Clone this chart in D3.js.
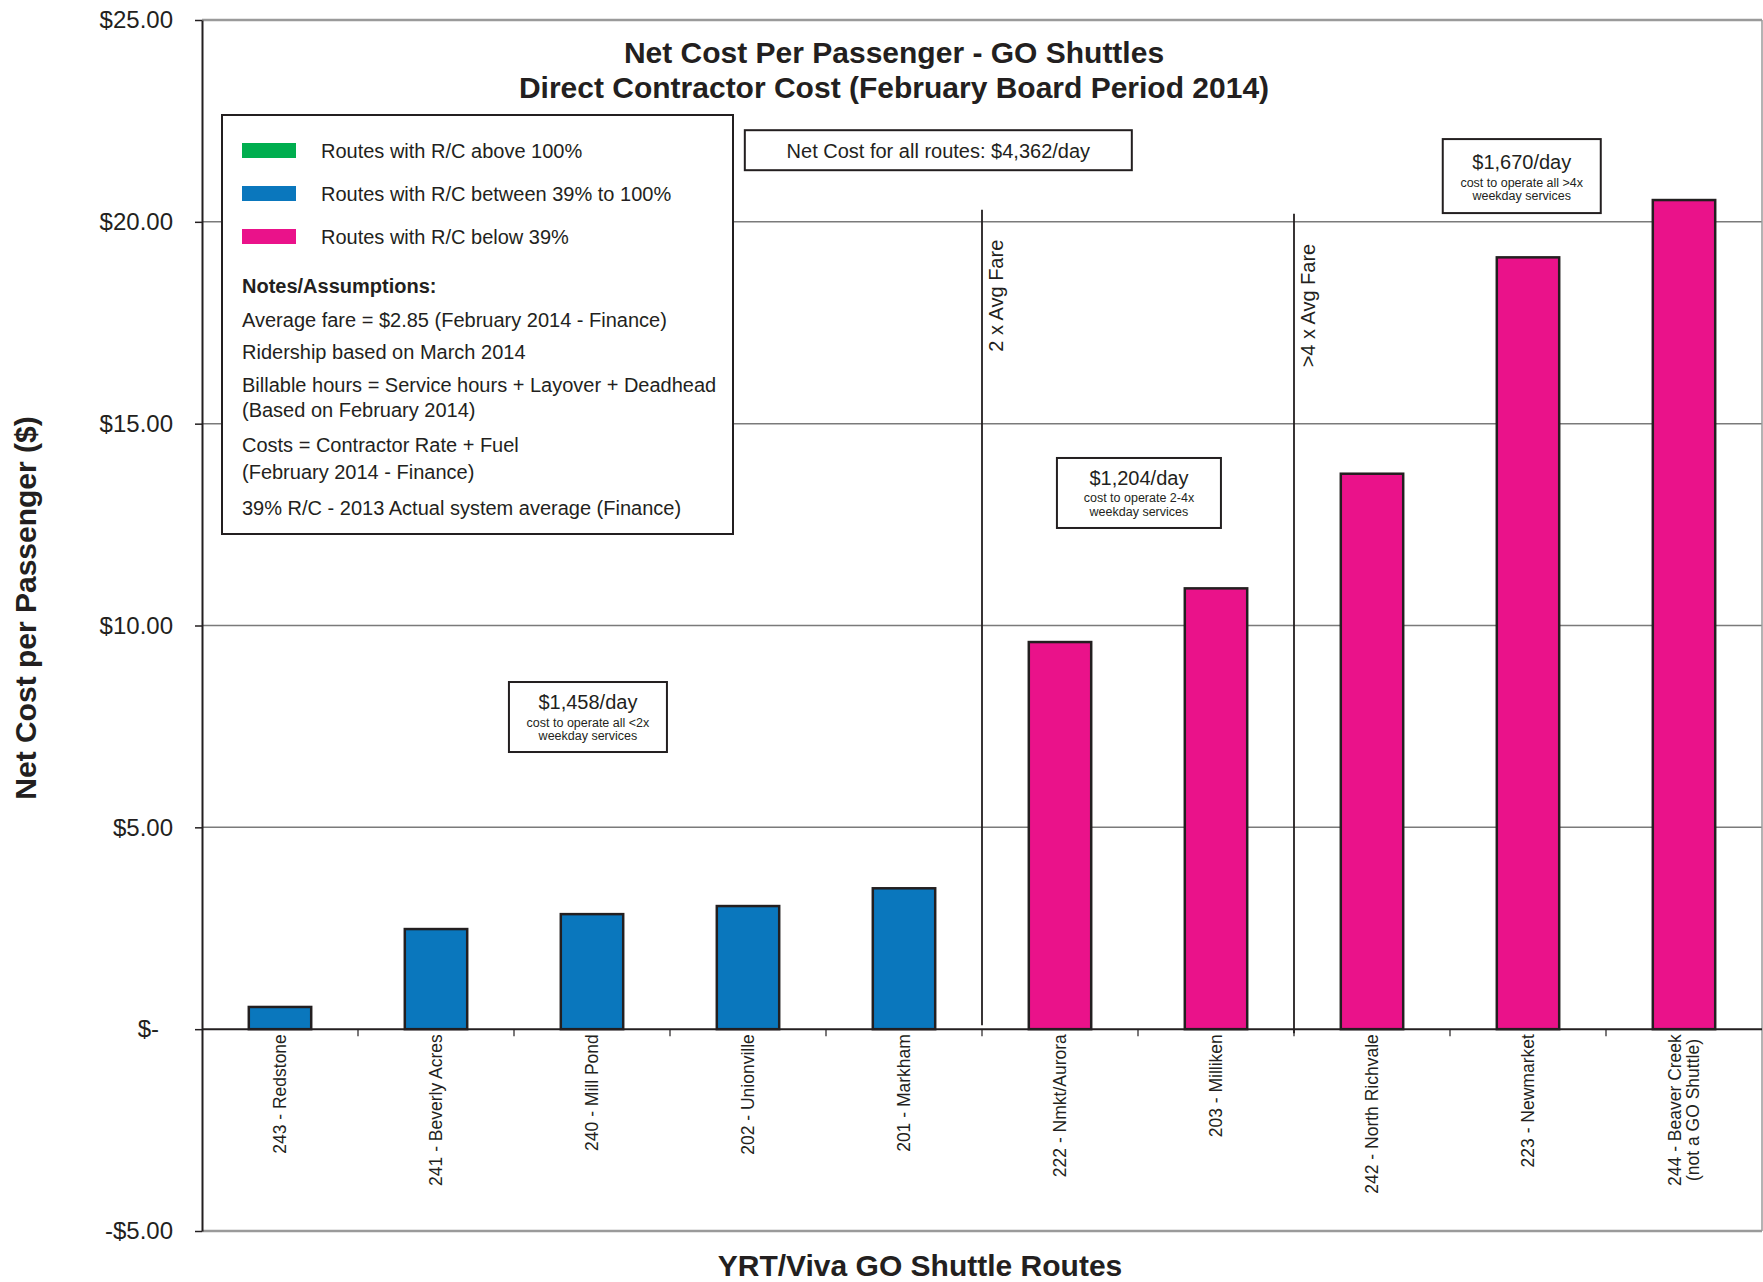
<!DOCTYPE html>
<html>
<head>
<meta charset="utf-8">
<script src="https://cdn.jsdelivr.net/npm/d3@7"></script>
<style>
body { margin: 0; background: #fff; }
svg text { font-family: "Liberation Sans", Arial, sans-serif; fill: #231f20; }
</style>
</head>
<body>
<svg id="chart" width="1763" height="1282"></svg>
<script>
// data
var routes = ["243 - Redstone", "241 - Beverly Acres", "240 - Mill Pond", "202 - Unionville", "201 - Markham",
  "222 - Nmkt/Aurora", "203 - Milliken", "242 - North Richvale", "223 - Newmarket", "244 - Beaver Creek|(not a GO Shuttle)"];
var netCost = [0.55, 2.48, 2.85, 3.05, 3.49, 9.59, 10.92, 13.76, 19.12, 20.54];
var rcGroup = ["mid", "mid", "mid", "mid", "mid", "low", "low", "low", "low", "low"];
var yTicks = [-5, 0, 5, 10, 15, 20, 25];

var legendItems = [
  { group: "high", label: "Routes with R/C above 100%" },
  { group: "mid", label: "Routes with R/C between 39% to 100%" },
  { group: "low", label: "Routes with R/C below 39%" }
];
var notes = ["Average fare = $2.85 (February 2014 - Finance)", "Ridership based on March 2014",
  "Billable hours = Service hours + Layover + Deadhead", "(Based on February 2014)",
  "Costs = Contractor Rate + Fuel", "(February 2014 - Finance)",
  "39% R/C - 2013 Actual system average (Finance)"];

// fare threshold dividers: placed before a route, from top value to bottom value
var dividers = [
  { before: "222 - Nmkt/Aurora", top: 20.3, bottom: 0.1, label: "2 x Avg Fare" },
  { before: "242 - North Richvale", top: 20.2, bottom: -0.1, label: ">4 x Avg Fare" }
];

// cost callouts (x in band units from left, top in $)
var callouts = [
  { u: 2.474, top: 8.60, lines: ["$1,458/day", "cost to operate all <2x", "weekday services"] },
  { u: 6.006, top: 14.15, lines: ["$1,204/day", "cost to operate 2-4x", "weekday services"] },
  { u: 8.46, top: 22.05, lines: ["$1,670/day", "cost to operate all >4x", "weekday services"] }
];
var totalNote = { u: 4.72, top: 22.27, text: "Net Cost for all routes: $4,362/day" };

var colors = { high: "#00ae4f", mid: "#0a77bd", low: "#ea128a" };

var svg = d3.select("#chart");
var plot = { left: 202, right: 1762, top: 20, bottom: 1231 };

var x = d3.scaleBand().domain(routes).range([plot.left, plot.right]).paddingInner(0.6).paddingOuter(0.3);
var y = d3.scaleLinear().domain([-5, 25]).range([plot.bottom, plot.top]);
var step = x.step();
function bandX(u) { return plot.left + u * step; }

// grid lines
svg.append("g").selectAll("line")
  .data(yTicks.filter(function (d) { return d !== 0 && d !== 25 && d !== -5; }))
  .join("line")
  .attr("x1", plot.left).attr("x2", plot.right)
  .attr("y1", function (d) { return y(d); }).attr("y2", function (d) { return y(d); })
  .attr("stroke", "#7a7a7a").attr("stroke-width", 1.5);

// plot frame (top, bottom, right)
svg.append("g").selectAll("line").data([25, -5]).join("line")
  .attr("x1", plot.left).attr("x2", plot.right)
  .attr("y1", function (d) { return y(d); }).attr("y2", function (d) { return y(d); })
  .attr("stroke", "#9a9a9a").attr("stroke-width", 2.5);
svg.append("line")
  .attr("x1", plot.right).attr("x2", plot.right)
  .attr("y1", y(25)).attr("y2", y(-5))
  .attr("stroke", "#9a9a9a").attr("stroke-width", 1.5);

// y axis
var yAxis = d3.axisLeft(y).tickValues(yTicks).tickSize(7).tickSizeOuter(0).tickPadding(22)
  .tickFormat(function (d) {
    if (d === 0) return "$-";
    return (d < 0 ? "-$" : "$") + Math.abs(d).toFixed(2);
  });
var gy = svg.append("g").attr("transform", "translate(" + plot.left + ",0)").call(yAxis);
gy.select(".domain").attr("stroke", "#231f20").attr("stroke-width", 2);
gy.selectAll(".tick line").attr("stroke", "#231f20").attr("stroke-width", 1.5);
gy.selectAll(".tick text").style("font-size", "24px").style("font-family", "Liberation Sans, Arial, sans-serif")
  .attr("fill", "#231f20")
  .attr("dx", function (d) { return d === 0 ? -14 : 0; });

// bars
svg.append("g").selectAll("rect").data(routes).join("rect")
  .attr("x", function (d) { return x(d); })
  .attr("width", x.bandwidth())
  .attr("y", function (d, i) { return y(netCost[i]); })
  .attr("height", function (d, i) { return y(0) - y(netCost[i]); })
  .attr("fill", function (d, i) { return colors[rcGroup[i]]; })
  .attr("stroke", "#231f20").attr("stroke-width", 2.5);

// x axis line at zero
svg.append("line")
  .attr("x1", plot.left).attr("x2", plot.right)
  .attr("y1", y(0)).attr("y2", y(0))
  .attr("stroke", "#231f20").attr("stroke-width", 2);

// category boundary ticks
svg.append("g").selectAll("line").data(routes.slice(1)).join("line")
  .attr("x1", function (d) { return x(d) - (step - x.bandwidth()) / 2; })
  .attr("x2", function (d) { return x(d) - (step - x.bandwidth()) / 2; })
  .attr("y1", y(0)).attr("y2", y(0) + 7)
  .attr("stroke", "#231f20").attr("stroke-width", 1.2);

// rotated category labels
var labelTop = y(0) + 5;
var lab = svg.append("g").selectAll("text").data(routes).join("text")
  .style("font-size", "17.5px");
lab.each(function (d) {
  var parts = d.split("|");
  var t = d3.select(this);
  var cx = x(d) + x.bandwidth() / 2;
  if (parts.length === 1) {
    t.attr("transform", "translate(" + (cx + 6) + "," + labelTop + ") rotate(-90)")
      .attr("text-anchor", "end").text(parts[0]);
  } else {
    var lh = 18;
    var base = cx + 6 - (parts.length - 1) * lh / 2;
    t.attr("text-anchor", "middle");
    parts.forEach(function (p, k) {
      t.append("tspan").attr("x", 0).attr("y", k * lh).text(p);
    });
    var maxLen = d3.max(t.selectAll("tspan").nodes(), function (n) { return n.getComputedTextLength(); });
    t.attr("transform", "translate(" + base + "," + (labelTop + maxLen / 2) + ") rotate(-90)");
  }
});

// fare dividers
dividers.forEach(function (dv) {
  var bx = x(dv.before) - (step - x.bandwidth()) / 2;
  svg.append("line")
    .attr("x1", bx).attr("x2", bx)
    .attr("y1", y(dv.top)).attr("y2", y(dv.bottom))
    .attr("stroke", "#231f20").attr("stroke-width", 1.8);
  svg.append("text")
    .attr("transform", "translate(" + (bx + 21) + "," + (y(dv.top) + 30) + ") rotate(-90)")
    .attr("text-anchor", "end")
    .style("font-size", "20px")
    .text(dv.label);
});

// title
svg.append("text").attr("x", 894).attr("y", 63).attr("text-anchor", "middle")
  .style("font-size", "30px").style("font-weight", "bold")
  .text("Net Cost Per Passenger - GO Shuttles");
svg.append("text").attr("x", 894).attr("y", 98).attr("text-anchor", "middle")
  .style("font-size", "30px").style("font-weight", "bold")
  .text("Direct Contractor Cost (February Board Period 2014)");

// axis titles
svg.append("text")
  .attr("transform", "translate(36,608) rotate(-90)")
  .attr("text-anchor", "middle")
  .style("font-size", "30px").style("font-weight", "bold")
  .text("Net Cost per Passenger ($)");
svg.append("text").attr("x", 920).attr("y", 1276).attr("text-anchor", "middle")
  .style("font-size", "30px").style("font-weight", "bold")
  .text("YRT/Viva GO Shuttle Routes");

// total note box
var tn = svg.append("g");
var tnW = 387, tnH = 40;
tn.append("rect")
  .attr("x", bandX(totalNote.u) - tnW / 2).attr("y", y(totalNote.top))
  .attr("width", tnW).attr("height", tnH)
  .attr("fill", "#fff").attr("stroke", "#231f20").attr("stroke-width", 2);
tn.append("text").attr("x", bandX(totalNote.u)).attr("y", y(totalNote.top) + 28)
  .attr("text-anchor", "middle").style("font-size", "20px").text(totalNote.text);

// cost callouts
var cW = 158, cH = 70;
callouts.forEach(function (c, i) {
  var g = svg.append("g");
  var cx = bandX(c.u), top = y(c.top);
  var w = i === 1 ? 164 : cW;
  var h = i === 2 ? 74 : cH;
  var off = i === 2 ? 3 : 0;
  g.append("rect").attr("x", cx - w / 2).attr("y", top).attr("width", w).attr("height", h)
    .attr("fill", "#fff").attr("stroke", "#231f20").attr("stroke-width", 2);
  g.append("text").attr("x", cx).attr("y", top + 27 + off).attr("text-anchor", "middle")
    .style("font-size", "20px").text(c.lines[0]);
  g.append("text").attr("x", cx).attr("y", top + 44.5 + off).attr("text-anchor", "middle")
    .style("font-size", "12.5px").text(c.lines[1]);
  g.append("text").attr("x", cx).attr("y", top + 58 + off).attr("text-anchor", "middle")
    .style("font-size", "12.5px").text(c.lines[2]);
});

// legend and notes box
var lg = svg.append("g").attr("transform", "translate(222,115)");
lg.append("rect").attr("width", 511).attr("height", 419)
  .attr("fill", "#fff").attr("stroke", "#231f20").attr("stroke-width", 2);
var rows = lg.selectAll("g.row").data(legendItems).join("g")
  .attr("transform", function (d, i) { return "translate(20," + (28 + i * 43) + ")"; });
rows.append("rect").attr("width", 54).attr("height", 15)
  .attr("fill", function (d) { return colors[d.group]; });
rows.append("text").attr("x", 79).attr("y", 14.5).style("font-size", "20px")
  .text(function (d) { return d.label; });
lg.append("text").attr("x", 20).attr("y", 178).style("font-size", "20px").style("font-weight", "bold")
  .text("Notes/Assumptions:");
var noteY = [212, 244, 277, 302, 337, 364, 400];
lg.selectAll("text.note").data(notes).join("text").attr("class", "note")
  .attr("x", 20).attr("y", function (d, i) { return noteY[i]; })
  .style("font-size", "20px").text(function (d) { return d; });
</script>
</body>
</html>
